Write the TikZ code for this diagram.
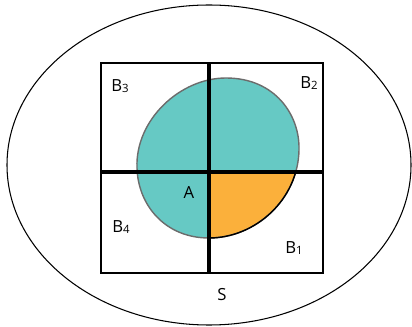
\documentclass[tikz,border=0pt]{standalone}
\usepackage{fontspec}
\setmainfont{Open Sans}

\definecolor{blobteal}{RGB}{102,201,196}
\definecolor{bloborange}{RGB}{251,176,59}

\newcommand{\lowidx}[1]{\raisebox{-0.6pt}{\fontsize{6.5}{7}\selectfont #1}}

\begin{document}
\begin{tikzpicture}[
    x=0.02cm, y=-0.02cm,
    frame/.style={draw, line width=0.8pt},
    cut/.style={draw, line width=2.1pt},
    label/.style={font=\fontsize{9.5}{11}\selectfont, inner sep=0pt}
  ]
  \useasboundingbox (0,0) rectangle (412,327);

  % sample space
  \draw[line width=0.6pt] (209,165) ellipse [x radius=202, y radius=160];

  % the event A
  \def\blobpath{(137,168) .. controls (135,120) and (180,78) .. (226,78)
      .. controls (275,78) and (300,115) .. (299,150)
      .. controls (298,200) and (255,238) .. (209,238)
      .. controls (165,238) and (138,205) .. (137,168) -- cycle}
  \fill[blobteal] \blobpath;
  \begin{scope}
    \clip (209,172) rectangle (330,280);
    \fill[bloborange] \blobpath;
  \end{scope}
  \draw[gray!85!black, line width=0.8pt] \blobpath;
  \begin{scope}
    \clip (209,172) rectangle (330,280);
    \draw[black, line width=0.8pt] \blobpath;
  \end{scope}

  % partition
  \coordinate (nw) at (101,63);
  \coordinate (se) at (323,273);
  \coordinate (top) at (209,63);
  \coordinate (bot) at (209,273);
  \coordinate (lft) at (101,172);
  \coordinate (rgt) at (323,172);
  \draw[frame] (nw) rectangle (se);
  \draw[cut] (lft) -- (rgt);
  \draw[cut] (top) -- (bot);

  % labels
  \node[label] (b3) at (120,86) {B\lowidx{3}};
  \node[label] (b2) at (309,83) {B\lowidx{2}};
  \node[label] (a) at (189,193) {A};
  \node[label] (b4) at (121,227) {B\lowidx{4}};
  \node[label] (b1) at (294,248) {B\lowidx{1}};
  \node[label] (s) at (222,295) {S};
\end{tikzpicture}
\end{document}
